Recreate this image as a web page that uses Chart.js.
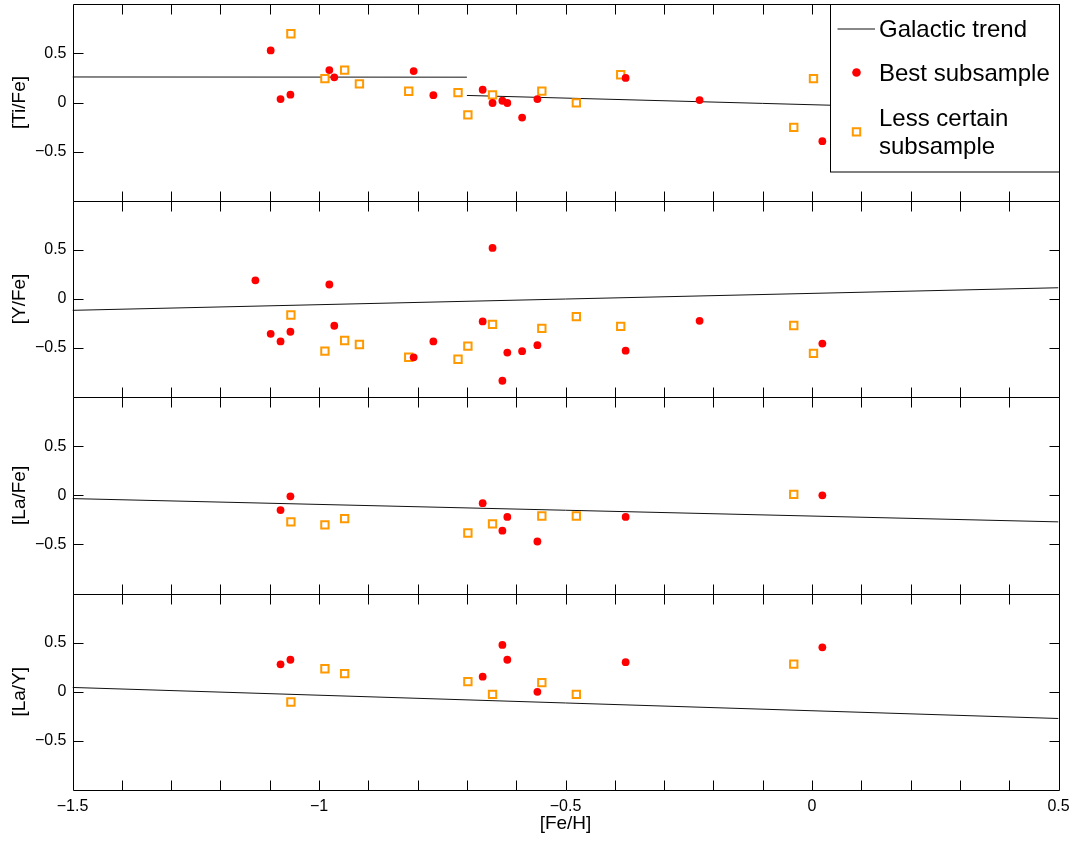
<!DOCTYPE html>
<html>
<head>
<meta charset="utf-8">
<script src="https://cdn.jsdelivr.net/npm/chart.js@4.4.1/dist/chart.umd.min.js"></script>
<style>
html,body{margin:0;padding:0;background:#fff;}
#wrap{position:relative;width:1079px;height:842px;}
</style>
</head>
<body>
<div id="wrap"><canvas id="c" width="1079" height="842"></canvas></div>
<script>
// ---------------- data ----------------
const seriesNames = ['Galactic trend', 'Best subsample', 'Less certain subsample'];
const panelTitles = ['[Ti/Fe]', '[Y/Fe]', '[La/Fe]', '[La/Y]'];
const xTitle = '[Fe/H]';

const xTickValues = [-1.5, -1, -0.5, 0, 0.5];
const xMinorTicks = [-1.4, -1.3, -1.2, -1.1, -1.0, -0.9, -0.8, -0.7, -0.6, -0.5, -0.4, -0.3, -0.2, -0.1, 0, 0.1, 0.2, 0.3, 0.4];
const yTickValues = [-0.5, 0, 0.5];

// [Ti/Fe]
const tiBestFeH = [-1.098, -1.078, -1.058, -0.979, -0.969, -0.808, -0.768, -0.668, -0.648, -0.628, -0.618, -0.588, -0.557, -0.378, -0.228, 0.021];
const tiBest    = [0.53, 0.035, 0.08, 0.33, 0.256, 0.32, 0.075, 0.13, -0.005, 0.018, -0.005, -0.153, 0.035, 0.25, 0.025, -0.394];
const tiLessFeH = [-1.057, -0.988, -0.948, -0.918, -0.818, -0.718, -0.698, -0.648, -0.548, -0.478, -0.388, -0.037, 0.003];
const tiLess    = [0.70, 0.243, 0.33, 0.19, 0.115, 0.10, -0.126, 0.078, 0.116, -0.003, 0.283, -0.253, 0.243];
const tiTrendLowFeH  = [-1.5, -0.7];
const tiTrendLow     = [0.26, 0.258];
const tiTrendHighFeH = [-0.7, 0.5];
const tiTrendHigh    = [0.072, -0.09];

// [Y/Fe]
const yBestFeH = [-1.129, -1.098, -1.078, -1.058, -0.979, -0.969, -0.808, -0.768, -0.668, -0.648, -0.628, -0.618, -0.588, -0.557, -0.378, -0.228, 0.021];
const yBest    = [0.19, -0.355, -0.433, -0.334, 0.147, -0.273, -0.594, -0.433, -0.229, 0.519, -0.833, -0.546, -0.532, -0.471, -0.527, -0.223, -0.455];
const yLessFeH = [-1.057, -0.988, -0.948, -0.918, -0.818, -0.718, -0.698, -0.648, -0.548, -0.478, -0.388, -0.037, 0.003];
const yLess    = [-0.164, -0.532, -0.423, -0.464, -0.594, -0.614, -0.481, -0.259, -0.30, -0.18, -0.28, -0.27, -0.555];
const yTrendFeH = [-1.5, 0.5];
const yTrend    = [-0.116, 0.114];

// [La/Fe]
const laBestFeH = [-1.078, -1.058, -0.668, -0.628, -0.618, -0.557, -0.378, 0.021];
const laFeBest  = [-0.15, -0.01, -0.08, -0.36, -0.22, -0.47, -0.22, 0.0];
const laLessFeH = [-1.057, -0.988, -0.948, -0.698, -0.648, -0.548, -0.478, -0.037];
const laFeLess  = [-0.27, -0.30, -0.237, -0.383, -0.29, -0.21, -0.21, 0.01];
const laFeTrendFeH = [-1.5, 0.5];
const laFeTrend    = [-0.033, -0.27];

// [La/Y]
const laYBest = [0.28, 0.326, 0.154, 0.477, 0.326, 0.0, 0.302, 0.453];
const laYLess = [-0.104, 0.235, 0.185, 0.104, -0.027, 0.094, -0.027, 0.282];
const laYTrendFeH = [-1.5, 0.5];
const laYTrend    = [0.044, -0.272];

// ---------------- styling ----------------
const FONT = "'Liberation Sans', Arial, Helvetica, sans-serif";
Chart.defaults.font.family = FONT;
Chart.defaults.color = '#000';
const RED = '#FF0000';
const ORANGE = '#FF9900';
const TREND = '#111111';

const fmt = v => (v < 0 ? '\u2212' : '') + String(Math.abs(v));
const pts = (xs, ys) => xs.map((x, i) => ({x: x, y: ys[i]}));

const panels = [
  {id: 'yTi',  title: panelTitles[0], weight: 4,
   trends: [[tiTrendLowFeH, tiTrendLow], [tiTrendHighFeH, tiTrendHigh]],
   best: [tiBestFeH, tiBest], less: [tiLessFeH, tiLess]},
  {id: 'yY',   title: panelTitles[1], weight: 3,
   trends: [[yTrendFeH, yTrend]],
   best: [yBestFeH, yBest], less: [yLessFeH, yLess]},
  {id: 'yLaFe', title: panelTitles[2], weight: 2,
   trends: [[laFeTrendFeH, laFeTrend]],
   best: [laBestFeH, laFeBest], less: [laLessFeH, laFeLess]},
  {id: 'yLaY', title: panelTitles[3], weight: 1,
   trends: [[laYTrendFeH, laYTrend]],
   best: [laBestFeH, laYBest], less: [laLessFeH, laYLess]}
];

const datasets = [];
const scales = {
  x: {
    type: 'linear', position: 'bottom', min: -1.5, max: 0.5,
    grid: {display: false, drawTicks: false}, border: {display: false},
    afterBuildTicks: s => { s.ticks = xTickValues.map(v => ({value: v})); },
    ticks: {font: {size: 16}, color: '#000', padding: 7, maxRotation: 0, autoSkip: false, callback: v => fmt(v)},
    title: {display: true, text: xTitle, font: {size: 19}, color: '#000', padding: {top: 0, bottom: 6.8}},
    afterFit: s => { s.height = 52; s.paddingLeft = 0; s.paddingRight = 0; }
  }
};

panels.forEach(p => {
  p.trends.forEach(t => {
    datasets.push({label: seriesNames[0], data: pts(t[0], t[1]), yAxisID: p.id, showLine: true,
      borderColor: TREND, borderWidth: 1, pointRadius: 0, pointHoverRadius: 0, order: 3});
  });
  datasets.push({label: seriesNames[2], data: pts(p.less[0], p.less[1]), yAxisID: p.id,
    pointStyle: 'rect', pointRadius: 5.2, pointHoverRadius: 5.2, borderWidth: 2,
    borderColor: ORANGE, backgroundColor: '#FFFFFF', order: 2});
  datasets.push({label: seriesNames[1], data: pts(p.best[0], p.best[1]), yAxisID: p.id,
    pointStyle: 'circle', pointRadius: 3.9, pointHoverRadius: 3.9, borderWidth: 0,
    borderColor: RED, backgroundColor: RED, order: 1});
  scales[p.id] = {
    type: 'linear', position: 'left', stack: 'panels', stackWeight: 1, weight: p.weight,
    min: -1, max: 1,
    grid: {display: false, drawTicks: false}, border: {display: false},
    afterBuildTicks: s => { s.ticks = yTickValues.map(v => ({value: v})); },
    ticks: {font: {size: 16}, color: '#000', padding: 6, callback: v => fmt(v)},
    title: {display: true, text: p.title, font: {size: 19}, color: '#000', padding: {top: 8.6, bottom: 0}},
    afterFit: s => { s.width = 72.5; s.paddingTop = 0; s.paddingBottom = 0; }
  };
});

// frame + inward ticks for each panel (MATLAB style)
const framePlugin = {
  id: 'frame',
  afterDatasetsDraw(chart) {
    const ctx = chart.ctx, xs = chart.scales.x;
    const r = v => Math.round(v) + 0.5;
    const TL = 10;
    ctx.save();
    ctx.strokeStyle = '#000';
    ctx.lineWidth = 1;
    panels.forEach(p => {
      const ys = chart.scales[p.id];
      const L = r(xs.left), R = r(xs.right), T = r(ys.top), B = r(ys.bottom);
      ctx.beginPath();
      ctx.rect(L, T, R - L, B - T);
      xMinorTicks.forEach(v => {
        const px = r(xs.getPixelForValue(v));
        ctx.moveTo(px, T); ctx.lineTo(px, T + TL);
        ctx.moveTo(px, B); ctx.lineTo(px, B - TL);
      });
      yTickValues.forEach(v => {
        const py = r(ys.getPixelForValue(v));
        ctx.moveTo(L, py); ctx.lineTo(L + TL, py);
        ctx.moveTo(R, py); ctx.lineTo(R - TL, py);
      });
      ctx.stroke();
    });
    ctx.restore();
  }
};

// boxed legend inside the top panel
const legendPlugin = {
  id: 'boxLegend',
  afterDraw(chart) {
    const ctx = chart.ctx;
    const ys = chart.scales[panels[0].id];
    const bw = 229, bh = 167.5;
    const bx = Math.round(chart.chartArea.right - bw) + 0.5;
    const by = Math.round(ys.top) + 0.5;
    ctx.save();
    ctx.fillStyle = '#fff';
    ctx.fillRect(bx, by, bw, bh);
    ctx.strokeStyle = '#000';
    ctx.lineWidth = 1;
    ctx.strokeRect(bx, by, bw, bh);
    const fontSize = 24;
    ctx.font = fontSize + 'px ' + FONT;
    ctx.fillStyle = '#000';
    ctx.textBaseline = 'alphabetic';
    ctx.textAlign = 'left';
    const tx = bx + 48.5, mx = bx + 26;
    const maxW = bw - 48.5 - 3;
    const wrap = txt => {
      const words = txt.split(' '); const lines = []; let cur = '';
      words.forEach(w => {
        const t = cur ? cur + ' ' + w : w;
        if (ctx.measureText(t).width > maxW && cur) { lines.push(cur); cur = w; } else { cur = t; }
      });
      lines.push(cur); return lines;
    };
    // row 1: trend
    ctx.strokeStyle = TREND; ctx.lineWidth = 1;
    ctx.beginPath(); ctx.moveTo(bx + 7, by + 24.5); ctx.lineTo(bx + 44.5, by + 24.5); ctx.stroke();
    ctx.fillText(seriesNames[0], tx, by + 32.8);
    // row 2: best
    ctx.fillStyle = RED;
    ctx.beginPath(); ctx.arc(mx, by + 68, 4.3, 0, Math.PI * 2); ctx.fill();
    ctx.fillStyle = '#000';
    ctx.fillText(seriesNames[1], tx, by + 76.5);
    // row 3: less certain
    ctx.strokeStyle = ORANGE; ctx.lineWidth = 2;
    ctx.fillStyle = '#fff';
    ctx.beginPath(); ctx.rect(mx - 3.7, by + 127.4 - 3.7, 7.4, 7.4); ctx.fill(); ctx.stroke();
    ctx.fillStyle = '#000';
    const lines = wrap(seriesNames[2]);
    lines.forEach((ln, i) => ctx.fillText(ln, tx, by + 121.5 + i * 28.3));
    ctx.restore();
  }
};

new Chart(document.getElementById('c'), {
  type: 'scatter',
  data: {datasets: datasets},
  options: {
    responsive: false,
    devicePixelRatio: 1,
    animation: false,
    events: [],
    layout: {autoPadding: false, padding: {left: 0, right: 20.5, top: 4.3, bottom: 0}},
    scales: scales,
    plugins: {legend: {display: false}, tooltip: {enabled: false}}
  },
  plugins: [framePlugin, legendPlugin]
});
</script>
</body>
</html>
